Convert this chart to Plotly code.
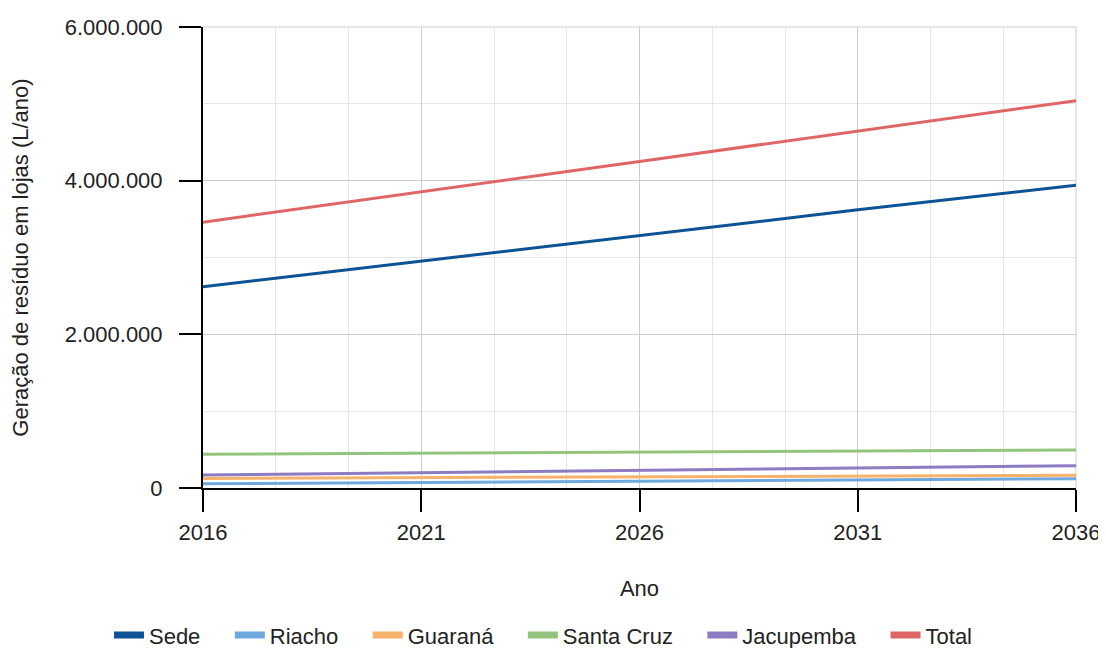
import plotly.graph_objects as go

years = list(range(2016, 2037))
sede = [2620, 2686, 2752, 2818, 2884, 2950, 3016, 3082, 3148, 3214, 3280,
        3348, 3416, 3484, 3552, 3620, 3684, 3748, 3812, 3876, 3940]
riacho = [55, 58, 61, 65, 68, 71, 74, 78, 81, 84, 87, 91, 94, 97, 100, 104,
          107, 110, 113, 117, 120]
guarana = [125, 127, 129, 131, 133, 135, 137, 139, 141, 143, 145, 147, 149,
           151, 153, 155, 157, 159, 161, 163, 165]
santa_cruz = [440, 443, 446, 448, 451, 454, 457, 459, 462, 465, 468, 470, 473,
              476, 479, 481, 484, 487, 490, 492, 495]
jacupemba = [170, 176, 182, 188, 194, 200, 206, 212, 218, 224, 230, 236, 242,
             248, 254, 260, 266, 272, 278, 284, 290]
total = [3460, 3540, 3620, 3700, 3780, 3860, 3938, 4016, 4094, 4172, 4250,
         4330, 4410, 4490, 4570, 4650, 4728, 4806, 4884, 4962, 5040]

series = [
    ("Sede", sede, "#0b5394"),
    ("Riacho", riacho, "#6fa8dc"),
    ("Guaraná", guarana, "#f6b26b"),
    ("Santa Cruz", santa_cruz, "#93c47d"),
    ("Jacupemba", jacupemba, "#8e7cc3"),
    ("Total", total, "#e06666"),
]

fig = go.Figure()
for name, vals, color in series:
    fig.add_trace(go.Scatter(
        x=years, y=[v * 1000 for v in vals], name=name, mode="lines",
        line=dict(color=color, width=3), showlegend=False, legendgroup=name,
    ))
# legend entries with thicker swatches
for i, (name, vals, color) in enumerate(series):
    pad = "\u00a0" * 4 if i < len(series) - 1 else ""
    fig.add_trace(go.Scatter(
        x=[None], y=[None], name=name + pad, mode="lines",
        line=dict(color=color, width=7), legendgroup=name,
    ))

font = "Arial, 'Liberation Sans', sans-serif"
FS = 22
fig.update_layout(
    width=1098, height=640,
    margin=dict(l=195, r=30, t=19, b=160),
    plot_bgcolor="white", paper_bgcolor="white",
    separators=",.",
    font=dict(family=font, size=FS, color="#222222"),
    showlegend=True,
    legend=dict(orientation="h", x=0.39, xanchor="center",
                y=0.02, yanchor="middle", yref="container",
                font=dict(size=FS), traceorder="normal"),
    xaxis=dict(
        range=[2016, 2036], tick0=2016, dtick=5,
        showline=True, linecolor="black", linewidth=2,
        ticks="outside", ticklen=22, tickwidth=2, tickcolor="black",
        showgrid=True, gridcolor="#cccccc", gridwidth=1,
        zeroline=False, automargin=False,
        minor=dict(dtick=5/3, tick0=2016, showgrid=True,
                   gridcolor="#e6e6e6", gridwidth=1, ticks=""),
        title=dict(text="Ano", font=dict(size=FS), standoff=36),
        tickfont=dict(size=FS),
        ticklabelstandoff=2,
        ticklabeloverflow="allow",
    ),
    yaxis=dict(
        range=[0, 6000000], dtick=2000000, tick0=0,
        tickformat=",d",
        showline=True, linecolor="black", linewidth=2,
        ticks="outside", ticklen=22, tickwidth=2, tickcolor="black",
        showgrid=True, gridcolor="#cccccc", gridwidth=1,
        zeroline=False, automargin=False,
        minor=dict(dtick=1000000, showgrid=True, gridcolor="#e6e6e6",
                   gridwidth=1, ticks=""),
        title=dict(text="Geração de resíduo em lojas (L/ano)",
                   font=dict(size=FS), standoff=30),
        tickfont=dict(size=FS),
        ticklabelstandoff=12,
    ),
)
fig.add_shape(type="line", xref="paper", yref="paper", x0=1, x1=1, y0=0, y1=1,
              line=dict(color="#cccccc", width=1), layer="below")
fig.add_shape(type="line", xref="paper", yref="paper", x0=0, x1=1, y0=1, y1=1,
              line=dict(color="#cccccc", width=1), layer="below")

fig.write_html("out.html")
